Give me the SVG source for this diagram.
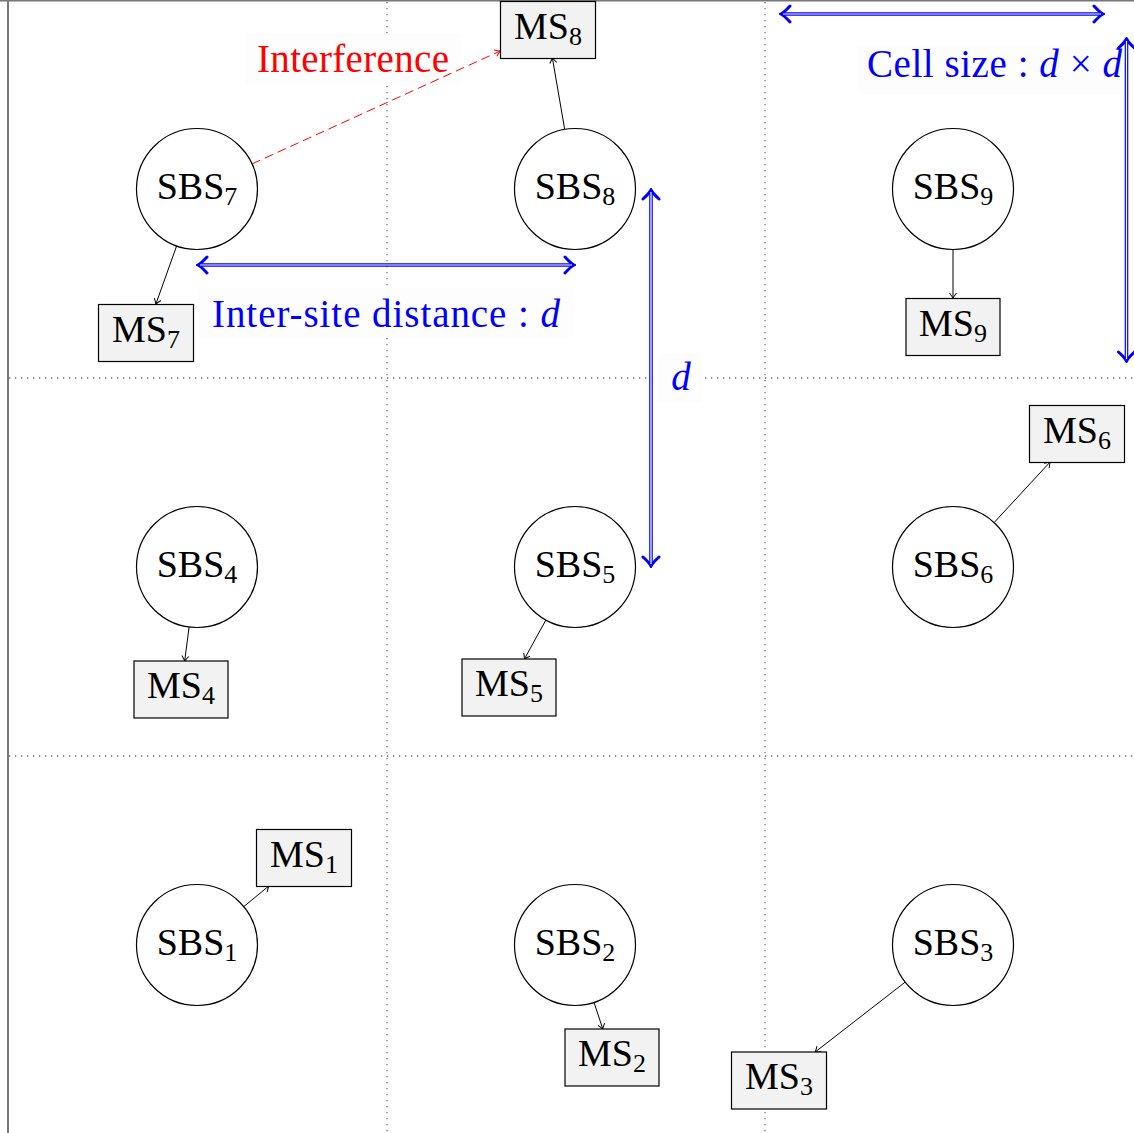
<svg xmlns="http://www.w3.org/2000/svg" width="1134" height="1133" viewBox="0 0 1134 1133">
<style>
.grid{stroke:#6e6e6e;stroke-width:1.3;stroke-dasharray:1.3 4.7;fill:none}
.sbs circle{fill:#fff;stroke:#000;stroke-width:1.2}
.ms rect{fill:#f2f2f2;stroke:#000;stroke-width:1.2}
.t{font-family:"Liberation Serif","Times New Roman",serif;font-size:38px;fill:#000;text-anchor:middle}
.sub{font-size:26px}
.conn{stroke:#000;stroke-width:1;fill:none}
.lblbg{fill:#fdfdfd}
.blue{font-family:"Liberation Serif","Times New Roman",serif;font-size:39px;fill:#0000ff}
.it{font-style:italic}
.dbl-o{stroke:#0000ff;stroke-width:3.6;fill:none}
.dbl-i{stroke:#fff;stroke-width:1.2;fill:none}
</style>
<defs>
<marker id="arr" viewBox="-7 -5 8 10" refX="0" refY="0" markerWidth="8" markerHeight="10" markerUnits="userSpaceOnUse" orient="auto">
<path d="M-5,-3.5 Q-1.5,-0.8 0,0 Q-1.5,0.8 -5,3.5" fill="none" stroke="#000" stroke-width="1"/>
</marker>
<marker id="arrR" viewBox="-7 -5 8 10" refX="0" refY="0" markerWidth="8" markerHeight="10" markerUnits="userSpaceOnUse" orient="auto">
<path d="M-5,-3.5 Q-1.5,-0.8 0,0 Q-1.5,0.8 -5,3.5" fill="none" stroke="#ff0000" stroke-width="1"/>
</marker>
<marker id="chev" viewBox="-12 -11 14 22" refX="0" refY="0" markerWidth="14" markerHeight="22" markerUnits="userSpaceOnUse" orient="auto-start-reverse">
<path d="M-9,-8 Q-3,-1.5 0,0 Q-3,1.5 -9,8" fill="none" stroke="#0000ff" stroke-width="3" stroke-linecap="round"/>
</marker>
</defs>
<rect x="0" y="0" width="1134" height="1133" fill="#fff"/>
<g id="grid">
<line x1="8" y1="0" x2="8" y2="1133" stroke="#555" stroke-width="1.6"/>
<line x1="0" y1="0.8" x2="1134" y2="0.8" stroke="#777" stroke-width="1.4"/>
<line class="grid" x1="387" y1="2" x2="387" y2="1133"/>
<line class="grid" x1="765" y1="2" x2="765" y2="1133"/>
<line class="grid" x1="9" y1="378" x2="1134" y2="378"/>
<line class="grid" x1="9" y1="756" x2="1134" y2="756"/>
</g>
<g id="labels">
<g id="lbl-interference">
<rect class="lblbg" x="245" y="33" width="217" height="52"/>
<text x="257" y="72" font-family="Liberation Serif, serif" font-size="39" fill="#ff0000" textLength="192" lengthAdjust="spacing">Interference</text>
</g>
<g id="lbl-isd">
<rect class="lblbg" x="198" y="288" width="375" height="50"/>
<text class="blue" x="212" y="327" textLength="348" lengthAdjust="spacing">Inter-site distance : <tspan class="it">d</tspan></text>
</g>
<g id="lbl-d">
<rect class="lblbg" x="657" y="353" width="45" height="50"/>
<text class="blue it" x="681" y="390" text-anchor="middle">d</text>
</g>
<g id="lbl-cell">
<rect class="lblbg" x="857" y="45" width="277" height="50"/>
<text class="blue" x="867" y="77" textLength="255" lengthAdjust="spacing">Cell size : <tspan class="it">d</tspan> × <tspan class="it">d</tspan></text>
</g>
</g>
<g id="connectors">
<line class="conn" x1="176.6" y1="246" x2="155.9" y2="304" marker-end="url(#arr)"/>
<line class="conn" x1="564.7" y1="129.4" x2="552.4" y2="58" marker-end="url(#arr)"/>
<line class="conn" x1="953" y1="249.5" x2="953" y2="298" marker-end="url(#arr)"/>
<line class="conn" x1="189.1" y1="627" x2="184.7" y2="661" marker-end="url(#arr)"/>
<line class="conn" x1="545.9" y1="620" x2="524.4" y2="659" marker-end="url(#arr)"/>
<line class="conn" x1="994.1" y1="522.6" x2="1050.1" y2="462" marker-end="url(#arr)"/>
<line class="conn" x1="243.8" y1="906.6" x2="268.8" y2="886" marker-end="url(#arr)"/>
<line class="conn" x1="594" y1="1002.4" x2="602.8" y2="1029" marker-end="url(#arr)"/>
<line class="conn" x1="905.2" y1="982.1" x2="815.2" y2="1052" marker-end="url(#arr)"/>
<line x1="252.1" y1="163.9" x2="500" y2="51.1" stroke="#ff0000" stroke-width="1" stroke-dasharray="9 5" marker-end="url(#arrR)"/>
</g>
<g id="SBS7" class="sbs"><circle cx="197" cy="189" r="60.5"/><text class="t" x="197" y="199">SBS<tspan class="sub" dy="6">7</tspan></text></g>
<g id="SBS8" class="sbs"><circle cx="575" cy="189" r="60.5"/><text class="t" x="575" y="199">SBS<tspan class="sub" dy="6">8</tspan></text></g>
<g id="SBS9" class="sbs"><circle cx="953" cy="189" r="60.5"/><text class="t" x="953" y="199">SBS<tspan class="sub" dy="6">9</tspan></text></g>
<g id="SBS4" class="sbs"><circle cx="197" cy="567" r="60.5"/><text class="t" x="197" y="577">SBS<tspan class="sub" dy="6">4</tspan></text></g>
<g id="SBS5" class="sbs"><circle cx="575" cy="567" r="60.5"/><text class="t" x="575" y="577">SBS<tspan class="sub" dy="6">5</tspan></text></g>
<g id="SBS6" class="sbs"><circle cx="953" cy="567" r="60.5"/><text class="t" x="953" y="577">SBS<tspan class="sub" dy="6">6</tspan></text></g>
<g id="SBS1" class="sbs"><circle cx="197" cy="945" r="60.5"/><text class="t" x="197" y="955">SBS<tspan class="sub" dy="6">1</tspan></text></g>
<g id="SBS2" class="sbs"><circle cx="575" cy="945" r="60.5"/><text class="t" x="575" y="955">SBS<tspan class="sub" dy="6">2</tspan></text></g>
<g id="SBS3" class="sbs"><circle cx="953" cy="945" r="60.5"/><text class="t" x="953" y="955">SBS<tspan class="sub" dy="6">3</tspan></text></g>
<g id="MS7" class="ms"><rect x="98.5" y="304.5" width="95" height="57"/><text class="t" x="146" y="342">MS<tspan class="sub" dy="6">7</tspan></text></g>
<g id="MS8" class="ms"><rect x="500.5" y="1.5" width="95" height="57"/><text class="t" x="548" y="39">MS<tspan class="sub" dy="6">8</tspan></text></g>
<g id="MS9" class="ms"><rect x="906" y="298.5" width="94" height="57"/><text class="t" x="953" y="336">MS<tspan class="sub" dy="6">9</tspan></text></g>
<g id="MS6" class="ms"><rect x="1029.5" y="405.5" width="95" height="57"/><text class="t" x="1077" y="443">MS<tspan class="sub" dy="6">6</tspan></text></g>
<g id="MS4" class="ms"><rect x="134" y="661" width="94" height="57"/><text class="t" x="181" y="698">MS<tspan class="sub" dy="6">4</tspan></text></g>
<g id="MS5" class="ms"><rect x="462" y="659" width="94" height="57"/><text class="t" x="509" y="696">MS<tspan class="sub" dy="6">5</tspan></text></g>
<g id="MS1" class="ms"><rect x="256.5" y="829.5" width="95" height="57"/><text class="t" x="304" y="867">MS<tspan class="sub" dy="6">1</tspan></text></g>
<g id="MS2" class="ms"><rect x="565" y="1029" width="94" height="57"/><text class="t" x="612" y="1066">MS<tspan class="sub" dy="6">2</tspan></text></g>
<g id="MS3" class="ms"><rect x="731.5" y="1052" width="95" height="57"/><text class="t" x="779" y="1089">MS<tspan class="sub" dy="6">3</tspan></text></g>
<g id="dimensions">
<line class="dbl-o" x1="198" y1="265" x2="574" y2="265" marker-start="url(#chev)" marker-end="url(#chev)"/>
<line class="dbl-i" x1="200" y1="265" x2="572" y2="265"/>
<line class="dbl-o" x1="651" y1="190" x2="651" y2="566" marker-start="url(#chev)" marker-end="url(#chev)"/>
<line class="dbl-i" x1="651" y1="192" x2="651" y2="564"/>
<line class="dbl-o" x1="781" y1="14" x2="1103" y2="14" marker-start="url(#chev)" marker-end="url(#chev)"/>
<line class="dbl-i" x1="783" y1="14" x2="1101" y2="14"/>
<line class="dbl-o" x1="1126.5" y1="39" x2="1126.5" y2="361" marker-start="url(#chev)" marker-end="url(#chev)"/>
<line class="dbl-i" x1="1126.5" y1="41" x2="1126.5" y2="359"/>
</g>
</svg>
